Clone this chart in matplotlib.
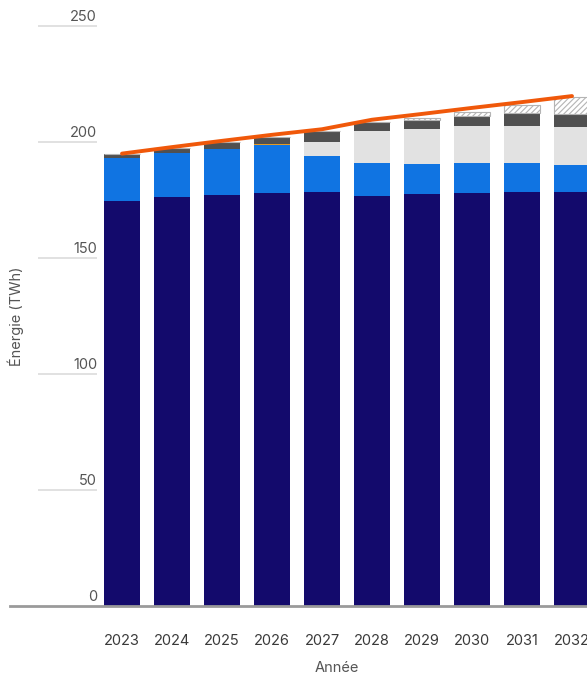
import matplotlib
matplotlib.use('Agg')
import matplotlib.pyplot as plt
import numpy as np

plt.rcParams['font.family'] = ['Inter', 'DejaVu Sans']
plt.rcParams['hatch.linewidth'] = 0.8

# %% data (TWh)

annees = ['2023', '2024', '2025', '2026', '2027', '2028', '2029', '2030', '2031', '2032']
base = [174.7, 176.3, 177.3, 178.1, 178.3, 176.9, 177.5, 177.9, 178.3, 178.3]
contrats = [18.3, 18.8, 19.5, 20.5, 15.7, 13.9, 12.9, 12.9, 12.5, 11.7]
ponctuel = [0, 0, 0, 0.6, 0, 0, 0, 0, 0, 0]
nouveaux = [0, 0, 0, 0, 6.1, 14.1, 15.1, 16.1, 16.2, 16.6]
autres = [1.7, 2.2, 3.1, 3.1, 4.8, 3.6, 4.0, 4.3, 5.6, 5.5]
a_combler = [0, 0, 0, 0, 0, 0, 0.7, 1.6, 3.2, 7.2]
besoins = [195.0, 197.8, 200.5, 203.1, 205.5, 209.6, 212.1, 214.7, 217.2, 219.8]

y_ticks = [0, 50, 100, 150, 200, 250]

# %% figure

W, H = 587, 678
fig = plt.figure(figsize=(W / 100, H / 100), dpi=100)
x0, y0 = 10, 606  # pixel position of axes left edge / baseline
ax = fig.add_axes((x0 / W, (H - y0) / H, 1 - x0 / W, y0 / H))
ax.set_axis_off()

px_per_unit = 2.32
px_per_year = 50
x_first = 122
ax.set_ylim(0, y0 / px_per_unit)
ax.set_xlim(-(x_first - x0) / px_per_year, 9 + (W - 572) / px_per_year)

x = np.arange(len(annees))
width = 0.72
bottom = np.zeros(len(annees))
for vals, color in [(base, '#130a6c'), (contrats, '#1074e2'), (ponctuel, '#e39a22'),
                    (nouveaux, '#e2e2e2'), (autres, '#505050')]:
    ax.bar(x, vals, width, bottom=bottom, color=color, linewidth=0)
    bottom += np.array(vals)
ax.bar(x, a_combler, width, bottom=bottom, facecolor='white', edgecolor='#b4b4b4',
       hatch='//////', linewidth=0.8)

ax.plot(x, besoins, color='#f0580a', lw=2.8, solid_capstyle='round', zorder=5)

# baseline
ax.axhline(0, color='#9a9a9a', lw=2, clip_on=False)

# y labels with short rules on the left
x_grid0 = -(x_first - 38) / px_per_year
x_grid1 = -(x_first - 97) / px_per_year
for t in y_ticks:
    if t > 0:
        ax.hlines(t, x_grid0, x_grid1, color='#dcdcdc', lw=1.2)
    ax.annotate(str(t), (x_grid1, t), xytext=(0, 1.5), textcoords='offset points',
                ha='right', va='bottom', fontsize=10.5, color='#555555')

# year labels
for xi, a in zip(x, annees):
    ax.annotate(a, (xi, 0), xytext=(0, -25), textcoords='offset points',
                ha='center', va='center', fontsize=10.5, color='#3a3a3a')

fig.text(337 / W, 1 - 668 / H, 'Année', ha='center', va='center', fontsize=10.5, color='#555555')
fig.text(16 / W, 1 - 316 / H, 'Énergie (TWh)', ha='center', va='center', rotation=90,
         fontsize=10.5, color='#555555')

fig.savefig('out.png', dpi=100)
